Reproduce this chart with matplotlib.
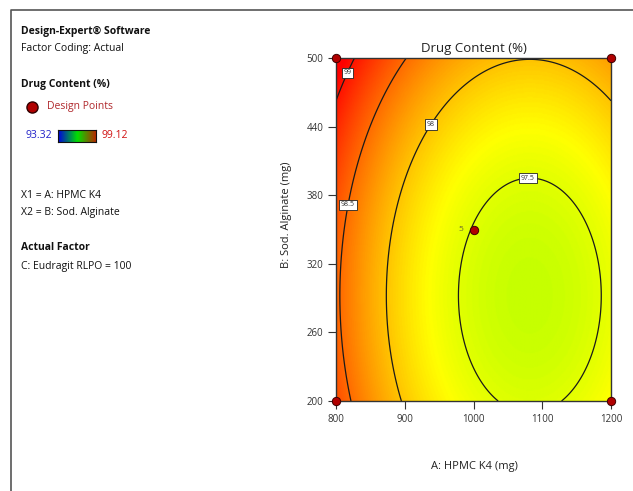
import numpy as np
import matplotlib
matplotlib.use("Agg")
import matplotlib.pyplot as plt
from matplotlib.colors import LinearSegmentedColormap
from matplotlib.lines import Line2D

# fitted model (coded factors), C: Eudragit RLPO held at 100
terms = ["Intercept", "A", "B", "AB", "A^2", "B^2"]
coefs = [97.49, -0.50, 0.27, 0.0, 0.61, 0.35]

hpmc_range = [800, 1200]
alg_range = [200, 500]

design_hpmc = [800, 800, 1200, 1200, 1000]
design_alg = [200, 500, 200, 500, 350]
center_reps = 5

levels = [97.5, 98.0, 98.5, 99.0]
label_pos = [(1079, 397), (932, 444), (813, 372), (809, 489)]
resp_min, resp_max = 93.32, 99.12

x_ticks = [800, 900, 1000, 1100, 1200]
y_ticks = [200, 260, 320, 380, 440, 500]

plt.rcParams["font.family"] = ["Open Sans", "DejaVu Sans"]

W, H = 633, 491
fig = plt.figure(figsize=(W / 100, H / 100), dpi=100)

def fx(px):
    return px / W

def fy(py):
    return 1 - py / H

# response surface
xs = np.linspace(hpmc_range[0], hpmc_range[1], 401)
ys = np.linspace(alg_range[0], alg_range[1], 301)
X, Y = np.meshgrid(xs, ys)
A = (X - np.mean(hpmc_range)) / (np.diff(hpmc_range)[0] / 2)
B = (Y - np.mean(alg_range)) / (np.diff(alg_range)[0] / 2)
b0, bA, bB, bAB, bAA, bBB = coefs
Z = b0 + bA * A + bB * B + bAB * A * B + bAA * A**2 + bBB * B**2

cmap = LinearSegmentedColormap.from_list(
    "de", [(0, "#0000ff"), (0.5, "#00ff00"), (0.75, "#ffff00"), (1.0, "#ff0000")])

ax = fig.add_axes([fx(336), fy(401), fx(611 - 336), (401 - 58) / H])
ax.imshow(Z, origin="lower", extent=[xs[0], xs[-1], ys[0], ys[-1]],
          cmap=cmap, vmin=resp_min, vmax=resp_max, aspect="auto", interpolation="bilinear")
cs = ax.contour(X, Y, Z, levels=levels, colors="#1a1a1a", linewidths=0.9)
lbls = ax.clabel(cs, fmt=lambda v: f"{v:g}", fontsize=5, inline=False, manual=label_pos)
for t in lbls:
    t.set_rotation(0)
    t.set_color("#333333")
    t.set_bbox(dict(boxstyle="square,pad=0.25", fc="white", ec="#222222", lw=0.6))

ax.plot(design_hpmc, design_alg, "o", ms=6, mfc="#b00000", mec="#400000", mew=0.7,
        clip_on=False, zorder=5)
ax.annotate(str(center_reps), (design_hpmc[-1], design_alg[-1]), xytext=(-9, 0),
            textcoords="offset points", ha="center", va="center", fontsize=6, color="#6b6b30")

ax.set_xlim(hpmc_range)
ax.set_ylim(alg_range)
ax.set_xticks(x_ticks)
ax.set_yticks(y_ticks)
ax.tick_params(direction="out", length=6, width=0.8, labelsize=7, colors="#333333", pad=3)
for s in ax.spines.values():
    s.set_color("#333333")
    s.set_linewidth(1.0)
ax.set_title("Drug Content (%)", fontsize=9.5, color="#222222", pad=4)
fig.text(fx(474), fy(466), "A: HPMC K4 (mg)", fontsize=8, ha="center", va="center", color="#222222")
fig.text(fx(287), fy(215), "B: Sod. Alginate (mg)", fontsize=8, ha="center", va="center",
         rotation=90, color="#222222")

# left info panel
txt = dict(fontsize=7.5, ha="left", va="center", color="#111111")
fig.text(fx(21), fy(31), "Design-Expert® Software", fontweight="bold", **txt)
fig.text(fx(21), fy(48), "Factor Coding: Actual", **txt)
fig.text(fx(21), fy(84), "Drug Content (%)", fontweight="bold", **txt)
fig.add_artist(Line2D([fx(32)], [fy(107)], marker="o", ms=8, mfc="#b00000", mec="#300000",
                      mew=1, transform=fig.transFigure))
fig.text(fx(47), fy(107), "Design Points", fontsize=7.5, ha="left", va="center", color="#b0282c")
fig.text(fx(25), fy(136), f"{resp_min:.2f}", fontsize=7.5, ha="left", va="center", color="#2020c8")
fig.text(fx(102), fy(136), f"{resp_max:.2f}", fontsize=7.5, ha="left", va="center", color="#d01010")
cax = fig.add_axes([fx(58), fy(142), fx(38), 12 / H])
cax.imshow(np.linspace(0, 1, 100)[None, :], cmap=LinearSegmentedColormap.from_list(
    "bar", ["#0000e0", "#00e000", "#c02000"]), aspect="auto")
cax.set_xticks([])
cax.set_yticks([])
for s in cax.spines.values():
    s.set_color("#111111")
fig.text(fx(21), fy(195), "X1 = A: HPMC K4", **txt)
fig.text(fx(21), fy(213), "X2 = B: Sod. Alginate", **txt)
fig.text(fx(21), fy(248), "Actual Factor", fontweight="bold", **txt)
fig.text(fx(21), fy(267), "C: Eudragit RLPO = 100", **txt)

# outer frame (only left and top visible)
fig.add_artist(Line2D([fx(11), fx(11), 1.0], [0, fy(10), fy(10)], color="#555555", lw=1.2,
                      transform=fig.transFigure))

fig.savefig("out.png", dpi=100)
